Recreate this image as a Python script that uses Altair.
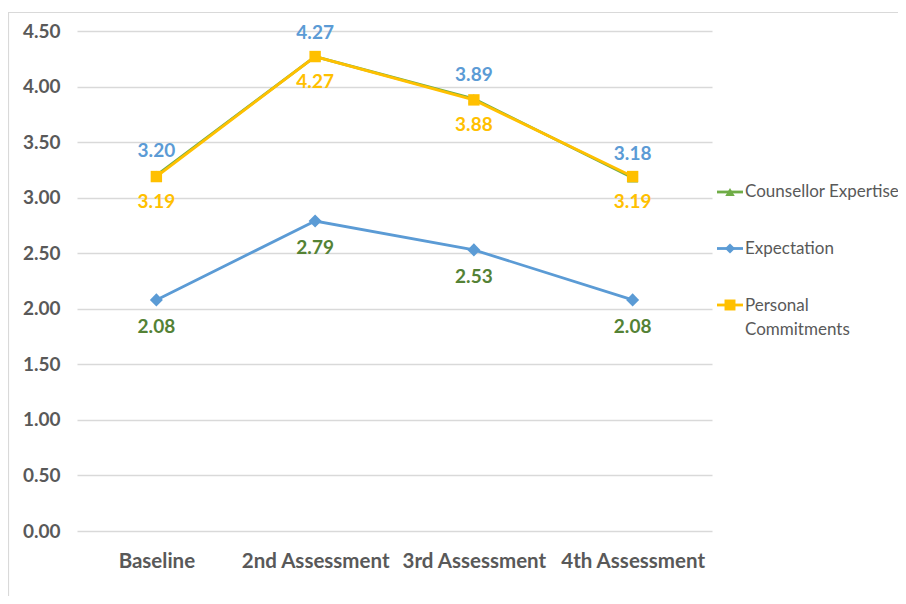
import altair as alt
import pandas as pd

categories = ["Baseline", "2nd Assessment", "3rd Assessment", "4th Assessment"]
series = ["Counsellor Expertise", "Expectation", "Personal Commitments"]
counsellor = [3.20, 4.27, 3.89, 3.18]
expectation = [2.08, 2.79, 2.53, 2.08]
personal = [3.19, 4.27, 3.88, 3.19]

line_colors = ["#70AD47", "#5B9BD5", "#FFC000"]
label_colors = ["#5B9BD5", "#548235", "#FFC000"]
shapes = ["triangle-up", "diamond", "square"]
sizes = [120, 170, 130]
label_dy = [-24, 27, 25]

values = [counsellor, expectation, personal]
rows = []
for s, vals in zip(series, values):
    for c, v in zip(categories, vals):
        rows.append({"series": s, "cat": c, "value": v})
df = pd.DataFrame(rows)

FONT = "Lato"
GREY = "#595959"

x_enc = alt.X("cat:N", sort=categories, title=None,
              scale=alt.Scale(type="point", padding=0.5),
              axis=alt.Axis(labelFont=FONT, labelFontSize=20.5, labelFontWeight="bold",
                            labelColor=GREY, ticks=False, domain=False, grid=False,
                            labelPadding=20, labelAngle=0))
y_enc = alt.Y("value:Q", title=None,
              scale=alt.Scale(domain=[0, 4.5]),
              axis=alt.Axis(values=[0, 0.5, 1, 1.5, 2, 2.5, 3, 3.5, 4, 4.5], format=".2f",
                            labelFont=FONT, labelFontSize=19, labelFontWeight="bold",
                            labelColor=GREY, ticks=False, domain=False,
                            grid=True, gridColor="#d9d9d9", gridWidth=1.3,
                            labelPadding=17))

base = alt.Chart(df)

frame = alt.Chart(pd.DataFrame({"a": [0]})).mark_rect(
    fill=None, stroke="#d9d9d9", strokeWidth=1.2
).encode(x=alt.value(-68.5), x2=alt.value(1000), y=alt.value(-18.5), y2=alt.value(1000))

main_layers = []
for i, s in enumerate(series):
    sub = base.transform_filter(alt.datum.series == s)
    main_layers.append(sub.mark_line(color=line_colors[i], strokeWidth=2.8).encode(x=x_enc, y=y_enc))
for i, s in enumerate(series):
    sub = base.transform_filter(alt.datum.series == s)
    main_layers.append(sub.mark_point(color=line_colors[i], filled=True, opacity=1,
                                      shape=shapes[i], size=sizes[i]).encode(x=x_enc, y=y_enc))
for i, s in enumerate(series):
    sub = base.transform_filter(alt.datum.series == s)
    main_layers.append(sub.mark_text(color=label_colors[i], font=FONT, fontSize=19,
                                     fontWeight="bold", dy=label_dy[i], baseline="middle").encode(
        x=x_enc, y=y_enc, text=alt.Text("value:Q", format=".2f")))

main = alt.layer(*main_layers)

leg_df = pd.DataFrame({"series": series})
leg_y = alt.Y("series:N", sort=series, scale=alt.Scale(type="point", range=[161, 274], padding=0),
              axis=None, title=None)
leg_color = alt.Color("series:N", scale=alt.Scale(domain=series, range=line_colors), legend=None)
leg_shape = alt.Shape("series:N", scale=alt.Scale(domain=series, range=shapes), legend=None)
leg_size = alt.Size("series:N", scale=alt.Scale(domain=series, range=[90, 120, 100]), legend=None)
leg_base = alt.Chart(leg_df)
leg_rule = leg_base.mark_rule(strokeWidth=2.8).encode(
    y=leg_y, x=alt.value(640), x2=alt.value(666), color=leg_color)
leg_pt = leg_base.mark_point(filled=True, opacity=1).encode(
    y=leg_y, x=alt.value(653), color=leg_color, shape=leg_shape, size=leg_size)
leg_text1 = leg_base.transform_filter(alt.datum.series != "Personal Commitments").mark_text(
    align="left", baseline="middle", font=FONT, fontSize=17, color=GREY).encode(
    y=leg_y, x=alt.value(668), text="series:N")
leg_text2 = leg_base.transform_filter(alt.datum.series == "Personal Commitments").transform_calculate(
    lab="'Personal\\nCommitments'").mark_text(
    align="left", baseline="middle", font=FONT, fontSize=17, color=GREY,
    lineBreak="\n", lineHeight=24, dy=1).encode(
    y=leg_y, x=alt.value(668), text="lab:N")
legend = alt.layer(leg_rule, leg_pt, leg_text1, leg_text2)

chart = alt.layer(frame, main, legend).resolve_scale(
    y="independent", color="independent", shape="independent", size="independent"
).properties(
    width=635, height=500,
    padding={"left": 69, "top": 23, "right": 186, "bottom": 65},
    autosize=alt.AutoSizeParams(type="none"),
    view=alt.ViewBackground(stroke="transparent", strokeWidth=0),
).configure_view(strokeWidth=0, stroke="transparent").configure_axis(
    domain=False
).configure_axisX(grid=False).configure(background="white")

chart.save("out.html", embed_options={"renderer": "svg", "actions": False})
